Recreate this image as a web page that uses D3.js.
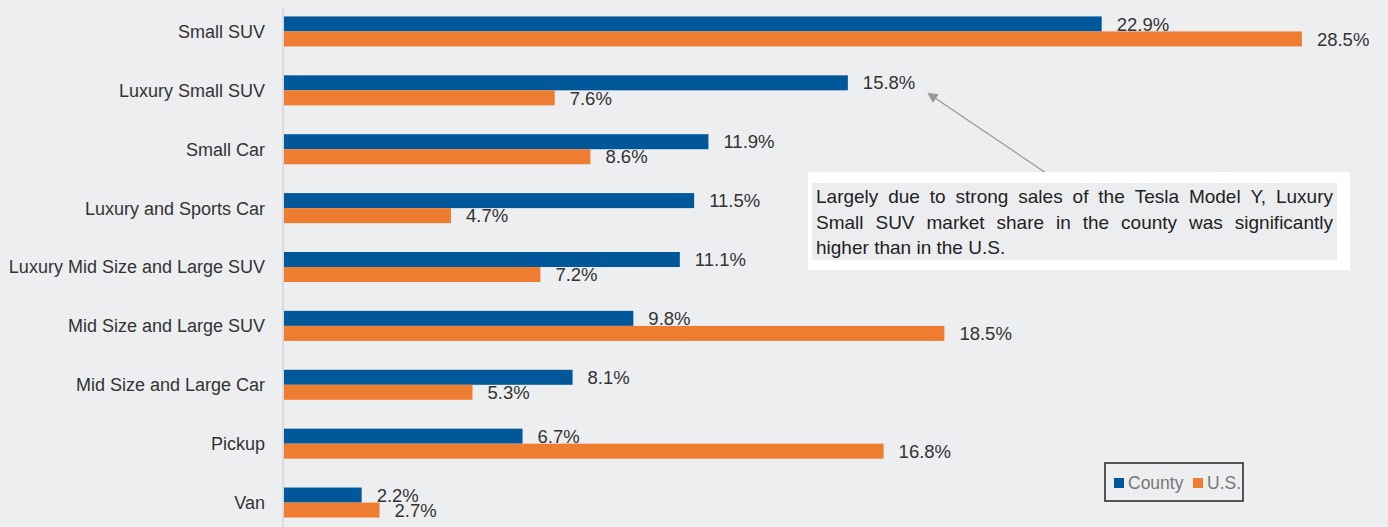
<!DOCTYPE html>
<html><head><meta charset="utf-8">
<script src="https://cdn.jsdelivr.net/npm/d3@7"></script>
<style>body{margin:0;background:#edeef0;} svg{display:block;font-family:"Liberation Sans",Arial,sans-serif;}</style>
</head><body><svg id="c" width="1388" height="527"></svg>
<script>
const categories = ["Small SUV","Luxury Small SUV","Small Car","Luxury and Sports Car","Luxury Mid Size and Large SUV","Mid Size and Large SUV","Mid Size and Large Car","Pickup","Van"];
const county = [22.9,15.8,11.9,11.5,11.1,9.8,8.1,6.7,2.2];
const us = [28.5,7.6,8.6,4.7,7.2,18.5,5.3,16.8,2.7];
const seriesNames = ["County","U.S."];
const annotation = ["Largely due to strong sales of the Tesla Model Y, Luxury","Small SUV market share in the county was significantly","higher than in the U.S."];

const svg = d3.select("#c");
const W=1388,H=527;
svg.append("rect").attr("width",W).attr("height",H).attr("fill","#edeef0");
const x0=283;
const x = d3.scaleLinear().domain([0,30]).range([x0,x0+30*35.75]);
const y = d3.scaleBand().domain(categories).range([2,532]).paddingInner(0.49).paddingOuter(0.245);
const colors=["#00579a","#ef7d31"];
const bh = y.bandwidth()/2;

svg.append("line").attr("x1",x0).attr("x2",x0).attr("y1",8).attr("y2",527).attr("stroke","#d6d6d6").attr("stroke-width",1.5);

const g = svg.append("g");
categories.forEach((c,i)=>{
  [county[i],us[i]].forEach((v,s)=>{
    const yy = y(c)+s*bh;
    g.append("rect").attr("x",x(0)+1).attr("y",yy).attr("width",x(v)-x(0)-1).attr("height",bh).attr("fill",colors[s]);
    g.append("text").attr("x",x(v)+15).attr("y",yy+bh/2).attr("dy","0.36em").attr("font-size",18.5).attr("fill","#333").text(v.toFixed(1)+"%");
  });
  g.append("text").attr("x",265).attr("y",y(c)+bh).attr("dy","0.36em").attr("text-anchor","end").attr("font-size",18).attr("fill","#333").text(c);
});

// annotation arrow
svg.append("defs").append("marker").attr("id","ah").attr("viewBox","0 0 10 10").attr("refX",1).attr("refY",5)
  .attr("markerWidth",8).attr("markerHeight",8).attr("orient","auto-start-reverse")
  .append("path").attr("d","M0,0 L10,5 L0,10 z").attr("fill","#999");
svg.append("line").attr("x1",1046).attr("y1",173).attr("x2",935).attr("y2",98).attr("stroke","#999").attr("stroke-width",1.3).attr("marker-end","url(#ah)");

svg.append("rect").attr("x",808).attr("y",172).attr("width",542).attr("height",98).attr("fill","#fff");
svg.append("rect").attr("x",812).attr("y",183).attr("width",525).attr("height",77).attr("fill","#ecedef");
annotation.forEach((line,li)=>{
  const words=line.split(" ");
  const ty=203+li*25.5;
  const left=816,right=1333;
  const ts=words.map(w=>svg.append("text").attr("y",ty).attr("font-size",19).attr("fill","#222").text(w));
  const widths=ts.map(t=>t.node().getComputedTextLength());
  if(li<annotation.length-1){
    const total=d3.sum(widths);
    const gap=(right-left-total)/(words.length-1);
    let cx=left;
    ts.forEach((t,k)=>{t.attr("x",cx);cx+=widths[k]+gap;});
  } else {
    const sp=5.3;let cx=left;
    ts.forEach((t,k)=>{t.attr("x",cx);cx+=widths[k]+sp;});
  }
});

// legend
svg.append("rect").attr("x",1105).attr("y",463).attr("width",138).attr("height",38).attr("fill","none").attr("stroke","#222").attr("stroke-width",1.5);
const lg=[[1114,"County"],[1193,"U.S."]];
lg.forEach(([lx,name],i)=>{
  svg.append("rect").attr("x",lx).attr("y",478).attr("width",10).attr("height",10).attr("fill",colors[i]);
  svg.append("text").attr("x",lx+14).attr("y",483).attr("dy","0.36em").attr("font-size",17.5).attr("fill","#777").text(seriesNames[i]);
});
</script></body></html>
